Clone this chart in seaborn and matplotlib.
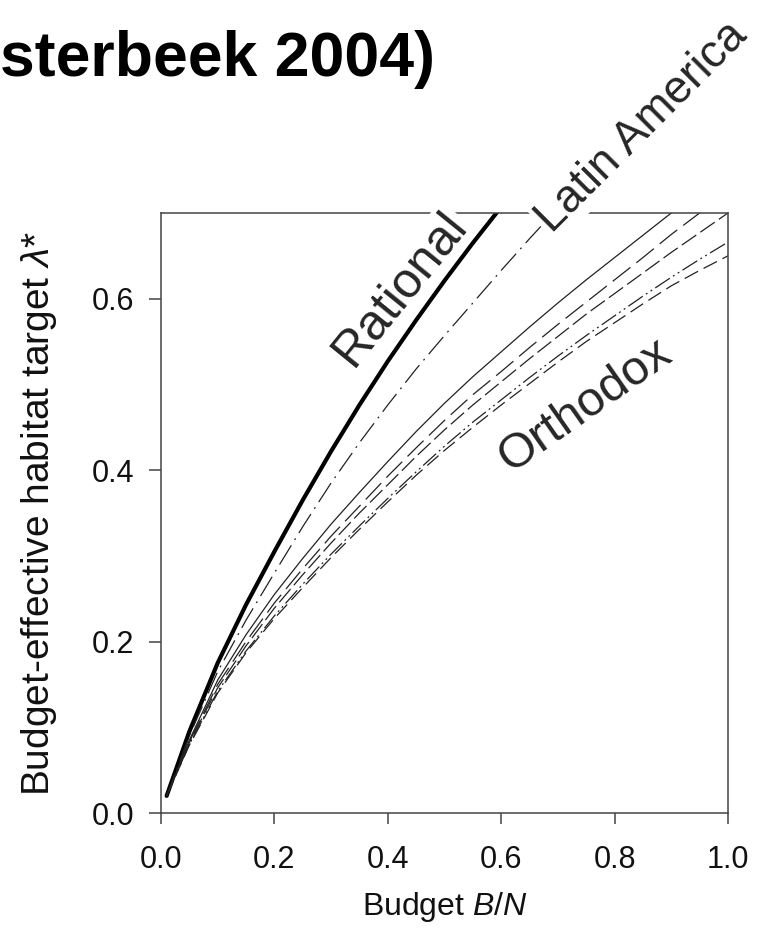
import pandas as pd
import matplotlib.pyplot as plt
import seaborn as sns

# Budget B/N values (x) and the habitat targets
budget = [0.01, 0.05, 0.10, 0.15, 0.20, 0.25, 0.30, 0.35, 0.40, 0.45, 0.50,
          0.55, 0.60, 0.65, 0.70, 0.75, 0.80, 0.85, 0.90, 0.95, 1.00]

rational = [0.020, 0.095, 0.175, 0.243, 0.305, 0.365, 0.422, 0.476, 0.527,
            0.575, 0.621, 0.665, 0.707, 0.747]
latin_america = [0.020, 0.090, 0.165, 0.225, 0.280, 0.334, 0.385, 0.432, 0.476,
                 0.518, 0.557, 0.595, 0.633, 0.670, 0.706]
orthodox_1 = [0.020, 0.085, 0.155, 0.208, 0.255, 0.297, 0.337, 0.374, 0.410, 0.445,
              0.478, 0.509, 0.538, 0.567, 0.595, 0.622, 0.648, 0.674, 0.700, 0.724, 0.748]
orthodox_2 = [0.020, 0.083, 0.150, 0.200, 0.245, 0.285, 0.323, 0.358, 0.393, 0.426,
              0.458, 0.488, 0.515, 0.543, 0.570, 0.596, 0.622, 0.648, 0.675, 0.700, 0.724]
orthodox_3 = [0.020, 0.082, 0.146, 0.195, 0.239, 0.278, 0.315, 0.350, 0.383, 0.416,
              0.447, 0.476, 0.503, 0.530, 0.556, 0.582, 0.606, 0.630, 0.654, 0.677, 0.700]
orthodox_4 = [0.020, 0.080, 0.142, 0.189, 0.230, 0.267, 0.302, 0.335, 0.367, 0.398,
              0.428, 0.456, 0.482, 0.508, 0.533, 0.557, 0.580, 0.603, 0.625, 0.646, 0.666]
orthodox_5 = [0.020, 0.079, 0.140, 0.187, 0.227, 0.263, 0.298, 0.331, 0.363, 0.394,
              0.423, 0.450, 0.476, 0.501, 0.526, 0.550, 0.572, 0.594, 0.615, 0.633, 0.650]

sns.set_theme(style="ticks")
plt.rcParams['font.family'] = ['Liberation Sans', 'DejaVu Sans']
plt.rcParams['mathtext.fontset'] = 'custom'
plt.rcParams['mathtext.rm'] = 'Liberation Sans'
plt.rcParams['mathtext.it'] = 'Liberation Sans:italic'

fig = plt.figure(figsize=(7.64, 9.52), dpi=100)
ax = fig.add_axes([0.2107, 0.146, 0.7422, 0.6303])

series = [
    (rational, '-', 3.0, 'black'),
    (latin_america, (0, (18, 5, 1.5, 5)), 0.9, '#222222'),
    (orthodox_1, '-', 0.9, '#222222'),
    (orthodox_2, (0, (18, 6)), 0.9, '#222222'),
    (orthodox_3, (0, (14, 4)), 0.9, '#222222'),
    (orthodox_4, (0, (14, 3, 1.5, 3, 1.5, 3)), 0.9, '#222222'),
    (orthodox_5, (0, (12, 5)), 0.9, '#222222'),
]
for vals, ls, lw, col in series:
    d = pd.DataFrame({'budget': budget[:len(vals)], 'target': vals})
    sns.lineplot(data=d, x='budget', y='target', ax=ax, color=col,
                 linestyle=ls, linewidth=lw, errorbar=None)

ax.set_xlim(0, 1.0)
ax.set_ylim(0, 0.7)
ax.set_xticks([0.0, 0.2, 0.4, 0.6, 0.8, 1.0])
ax.set_yticks([0.0, 0.2, 0.4, 0.6])
ax.set_xticklabels(['0.0', '0.2', '0.4', '0.6', '0.8', '1.0'])
ax.set_yticklabels(['0.0', '0.2', '0.4', '0.6'])
for s in ax.spines.values():
    s.set_visible(True)
    s.set_color('#444444')
    s.set_linewidth(1.1)
ax.tick_params(axis='both', direction='out', color='#444444', width=1.1,
               labelsize=22, labelcolor='#111111')
ax.tick_params(axis='x', length=8, pad=15)
ax.tick_params(axis='y', length=8.5, pad=11)

ax.set_xlabel('Budget $B/N$', fontsize=23, color='#111111')
ax.xaxis.set_label_coords(0.5, -0.128)
ax.set_ylabel('Budget-effective habitat target $\\lambda$*', fontsize=28,
              color='#111111')
ax.yaxis.set_label_coords(-0.18, 0.5)

box = dict(facecolor='white', edgecolor='none', pad=1)
ax.text(0.423, 0.612, 'Rational', rotation=51, fontsize=36, ha='center', va='center',
        bbox=box, zorder=5, clip_on=False)
ax.text(0.848, 0.800, 'Latin America', rotation=45, fontsize=33, ha='center', va='center',
        bbox=box, zorder=5, clip_on=False)
ax.text(0.748, 0.476, 'Orthodox', rotation=35, fontsize=35, ha='center', va='center',
        bbox=box, zorder=5, clip_on=False)

fig.text(0.0, 1 - 76 / 952, 'sterbeek 2004)', fontsize=45, fontweight='bold',
         ha='left', va='baseline', color='black')

fig.savefig('out.png', dpi=100)
